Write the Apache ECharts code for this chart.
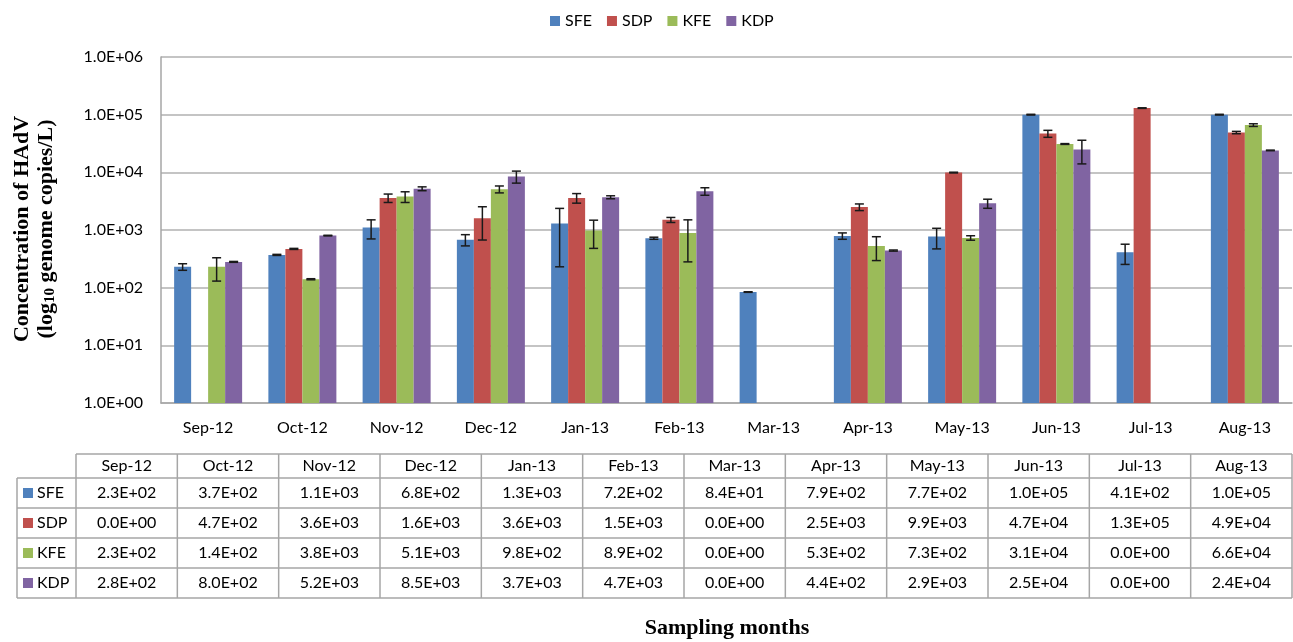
<!DOCTYPE html>
<html><head><meta charset="utf-8">
<script src="https://cdn.jsdelivr.net/npm/echarts@6/dist/echarts.min.js"></script>
<style>html,body{margin:0;padding:0;background:#fff}#c{width:1293px;height:642px}</style>
</head><body><div id="c"></div>
<script>
const months = ['Sep-12','Oct-12','Nov-12','Dec-12','Jan-13','Feb-13','Mar-13','Apr-13','May-13','Jun-13','Jul-13','Aug-13'];
const seriesNames = ['SFE','SDP','KFE','KDP'];
const sfe = [230,370,1100,680,1300,720,84,790,770,100000,410,100000];
const sdp = [0,470,3600,1600,3600,1500,0,2500,9900,47000,130000,49000];
const kfe = [230,140,3800,5100,980,890,0,530,730,31000,0,66000];
const kdp = [280,800,5200,8500,3700,4700,0,440,2900,25000,0,24000];
const sfeErr = [30,8,400,150,1070,30,1,100,300,1500,157,1500];
const sdpErr = [0,10,600,930,680,150,0,330,150,6500,1500,2300];
const kfeErr = [100,3,800,700,500,610,0,235,65,500,0,3500];
const kdpErr = [5,10,400,2000,220,700,0,10,520,11000,0,300];
const yTickLabels = ['1.0E+00','1.0E+01','1.0E+02','1.0E+03','1.0E+04','1.0E+05','1.0E+06'];

const colors = ['#4F81BD','#C0504D','#9BBB59','#8064A2'];
const values = [sfe, sdp, kfe, kdp];
const errs = [sfeErr, sdpErr, kfeErr, kdpErr];
const FONT = 'Lato';
const SERIF = '"Liberation Serif", "DejaVu Serif", serif';
const BAR_W = 17;
const FS = 16;

function fmt(v){
  if (v === 0) return '0.0E+00';
  const e = Math.floor(Math.log10(v) + 1e-9);
  let m = v / Math.pow(10, e);
  let ms = m.toFixed(1);
  let ee = e;
  if (ms === '10.0') { ms = '1.0'; ee += 1; }
  return ms + 'E' + (ee >= 0 ? '+' : '-') + String(Math.abs(ee)).padStart(2,'0');
}

const series = [];
values.forEach((arr, si) => {
  series.push({
    name: seriesNames[si], type: 'bar', barWidth: BAR_W, barGap: '0%',
    itemStyle: { color: colors[si] },
    data: arr.map(v => v > 0 ? v : null),
    z: 2
  });
});
values.forEach((arr, si) => {
  const data = [];
  arr.forEach((v, i) => { if (v > 0) data.push([i, v, errs[si][i]]); });
  series.push({
    type: 'custom', name: seriesNames[si] + ' err', z: 5, silent: true,
    encode: { x: 0, y: 1 },
    data: data,
    renderItem: function(params, api){
      const i = api.value(0), v = api.value(1), e = api.value(2);
      const off = (si - 1.5) * BAR_W;
      const hi = api.coord([i, v + e]);
      const lo = api.coord([i, Math.max(v - e, 1)]);
      const x = hi[0] + off;
      const cw = 4.5;
      const st = { stroke: '#1a1a1a', lineWidth: 1.5 };
      return { type: 'group', children: [
        { type: 'line', shape: { x1: x, y1: hi[1], x2: x, y2: lo[1] }, style: st },
        { type: 'line', shape: { x1: x - cw, y1: hi[1], x2: x + cw, y2: hi[1] }, style: st },
        { type: 'line', shape: { x1: x - cw, y1: lo[1], x2: x + cw, y2: lo[1] }, style: st }
      ]};
    }
  });
});

// Data table built from arrays
const graphics = [];
const T = { left: 17, labelW: 59, top: 454, headH: 24, rowH: 30, right: 1292 };
const colW = (T.right - T.left - T.labelW) / months.length;
const lineStyle = { stroke: '#A6A6A6', lineWidth: 1.5 };
const x0 = T.left + T.labelW;
const tableBottom = T.top + T.headH + T.rowH * seriesNames.length;
graphics.push({ type: 'line', shape: { x1: x0, y1: T.top, x2: T.right, y2: T.top }, style: lineStyle });
for (let r = 0; r <= seriesNames.length; r++) {
  const y = T.top + T.headH + r * T.rowH;
  graphics.push({ type: 'line', shape: { x1: T.left, y1: y, x2: T.right, y2: y }, style: lineStyle });
}
graphics.push({ type: 'line', shape: { x1: T.left, y1: T.top + T.headH, x2: T.left, y2: tableBottom }, style: lineStyle });
for (let c = 0; c <= months.length; c++) {
  const x = x0 + c * colW;
  graphics.push({ type: 'line', shape: { x1: x, y1: T.top, x2: x, y2: tableBottom }, style: lineStyle });
}
months.forEach((m, c) => {
  graphics.push({ type: 'text', x: x0 + (c + 0.5) * colW, y: T.top + T.headH / 2,
    style: { text: m, fill: '#000', font: FS + 'px ' + FONT, textAlign: 'center', textVerticalAlign: 'middle' } });
});
seriesNames.forEach((n, r) => {
  const yc = T.top + T.headH + (r + 0.5) * T.rowH;
  graphics.push({ type: 'rect', shape: { x: T.left + 6, y: yc - 5, width: 10, height: 10 }, style: { fill: colors[r] } });
  graphics.push({ type: 'text', x: T.left + 20, y: yc,
    style: { text: n, fill: '#000', font: FS + 'px ' + FONT, textAlign: 'left', textVerticalAlign: 'middle' } });
  values[r].forEach((v, c) => {
    graphics.push({ type: 'text', x: x0 + (c + 0.5) * colW, y: yc,
      style: { text: fmt(v), fill: '#000', font: FS + 'px ' + FONT, textAlign: 'center', textVerticalAlign: 'middle' } });
  });
});
graphics.push({ type: 'text', x: 727, y: 628,
  style: { text: 'Sampling months', fill: '#000', font: 'bold 22px ' + SERIF, textAlign: 'center', textVerticalAlign: 'middle' } });
graphics.push({ type: 'text', x: 22, y: 229, rotation: Math.PI / 2,
  style: { text: 'Concentration of HAdV', fill: '#000', font: 'bold 22px ' + SERIF, textAlign: 'center', textVerticalAlign: 'middle' } });
graphics.push({ type: 'text', x: 46, y: 229, rotation: Math.PI / 2,
  style: { text: '{a|(log}{s|10}{a| genome copies/L)}', textAlign: 'center', textVerticalAlign: 'middle',
    rich: { a: { font: 'bold 22px ' + SERIF, fill: '#000' }, s: { font: 'bold 15px ' + SERIF, fill: '#000', padding: [8, 0, 0, 0] } } } });

const chart = echarts.init(document.getElementById('c'), null, { renderer: 'canvas' });
chart.setOption({
  animation: false,
  backgroundColor: '#fff',
  color: colors,
  legend: {
    data: seriesNames, top: 8, left: 545, icon: 'rect', itemWidth: 10, itemHeight: 10, itemGap: 15,
    textStyle: { fontFamily: FONT, fontSize: FS, color: '#000' }
  },
  grid: { left: 161, right: 1, top: 57, height: 346, containLabel: false },
  xAxis: {
    type: 'category', data: months,
    axisLine: { lineStyle: { color: '#A6A6A6', width: 1.5 } },
    axisTick: { show: false },
    axisLabel: { fontFamily: FONT, fontSize: FS, color: '#000', margin: 17 }
  },
  yAxis: {
    type: 'log', logBase: 10, min: 1, max: 1e6,
    axisLine: { show: true, lineStyle: { color: '#A6A6A6', width: 1.5 } },
    axisTick: { show: false },
    splitLine: { show: true, lineStyle: { color: '#B0B0B0', width: 1.5 } },
    axisLabel: { fontFamily: FONT, fontSize: FS, color: '#000', margin: 18,
      formatter: function(v){ const e = Math.round(Math.log10(v)); return yTickLabels[e] || ''; } }
  },
  series: series,
  graphic: graphics
});
</script></body></html>
